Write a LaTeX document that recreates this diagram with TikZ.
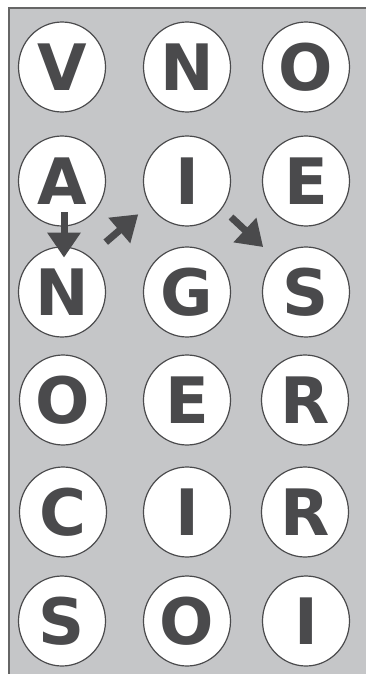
\documentclass[tikz,border=0pt]{standalone}
\usepackage{fontspec}
\newfontfamily\letterfont{DejaVu Sans Bold}
\usetikzlibrary{shapes.geometric,arrows.meta,calc}
\definecolor{bggray}{HTML}{C5C6C8}
\definecolor{ink}{HTML}{4A4A4C}
\definecolor{framegray}{HTML}{666666}
\tikzset{
  letter/.style={ellipse, draw=ink, line width=1.2pt, fill=white,
    minimum width=87pt, minimum height=90pt, inner sep=0pt,
    text=ink, font=\letterfont\fontsize{64}{64}\selectfont,
    text height=46.7pt, text depth=0pt},
  bigarrow/.style={draw=ink, line width=7pt,
    -{Triangle[width=32pt,length=25pt]}}
}
\begin{document}
\begin{tikzpicture}[x=1pt,y=-1pt]
\useasboundingbox (0,0) rectangle (366,674);
\fill[white] (0,0) rectangle (366,674);
\fill[bggray] (9,8) rectangle (366,674);
\draw[framegray, line width=2pt] (9,674) -- (9,8) -- (366,8);
% row 1
\node[letter] (V1) at (62,67) {V};
\node[letter] (N1) at (187,67) {N};
\node[letter] (O1) at (306,67) {O};
% row 2
\node[letter] (A) at (62,181) {A};
\node[letter] (I) at (187,181) {I};
\node[letter] (E2) at (306,181) {E};
% row 3
\node[letter] (N) at (62,292) {N};
\node[letter] (G) at (187,292) {G};
\node[letter] (S) at (306,292) {S};
% row 4
\node[letter] (O4) at (63,400) {O};
\node[letter] (E4) at (187,400) {E};
\node[letter] (R4) at (305,400) {R};
% row 5
\node[letter] (C5) at (63,512) {C};
\node[letter] (I5) at (187,512) {I};
\node[letter] (R5) at (305,512) {R};
% row 6
\node[letter] (S6) at (62,621) {S};
\node[letter] (O6) at (187,621) {O};
\node[letter] (I6) at (306,621) {I};
% arrows
\draw[bigarrow] ($(A)!0.28!(N)+(2,0)$) -- ($(A)!0.69!(N)+(2,0)$);
\draw[bigarrow] ($(N)!0.35!(I)+(0,-11)$) -- ($(N)!0.61!(I)+(0,-10)$);
\draw[bigarrow] ($(I)!0.37!(S)+(0,-5)$) -- ($(I)!0.64!(S)+(0,-5)$);
\end{tikzpicture}
\end{document}
